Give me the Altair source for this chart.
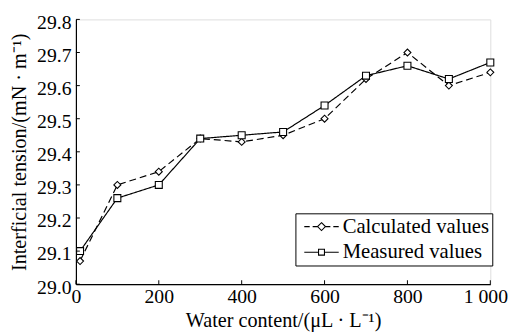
import altair as alt
import pandas as pd

water = [10, 100, 200, 300, 400, 500, 600, 700, 800, 900, 1000]
calculated = [29.07, 29.30, 29.34, 29.44, 29.43, 29.45, 29.50, 29.62, 29.70, 29.60, 29.64]
measured = [29.10, 29.26, 29.30, 29.44, 29.45, 29.46, 29.54, 29.63, 29.66, 29.62, 29.67]
series_names = ["Calculated values", "Measured values"]
x_ticks = [0, 200, 400, 600, 800, 1000]
y_ticks = [29.0, 29.1, 29.2, 29.3, 29.4, 29.5, 29.6, 29.7, 29.8]

rows = []
for i, w in enumerate(water):
    rows.append({"water": w, "value": calculated[i], "series": series_names[0]})
    rows.append({"water": w, "value": measured[i], "series": series_names[1]})
df = pd.DataFrame(rows)

FONT = "Liberation Serif"
W, H = 421, 269

xs = alt.Scale(domain=[0, 1000], nice=False)
ys = alt.Scale(domain=[29.0, 29.8], nice=False, zero=False)

common_axis = dict(ticks=False, grid=False, labelOverlap=False, labelFlush=False,
                   labelFont=FONT, labelFontSize=20, labelColor="black",
                   titleFont=FONT, titleFontSize=20.5, titleFontWeight="normal", titleColor="black",
                   domainColor="black", domainWidth=1.2)

x_axis = alt.Axis(values=x_ticks, labelPadding=3,
                  labelOffset={"condition": {"test": "datum.value == 1000", "value": -5}, "value": 0},
                  labelExpr="datum.value == 1000 ? '1 000' : datum.label",
                  title="Water content/(μL · L⁻¹)", titlePadding=4, **common_axis)
y_axis = alt.Axis(values=y_ticks, format=".1f", labelPadding=5, labelOffset=3,
                  title="Interficial tension/(mN · m⁻¹)", titlePadding=7, **common_axis)

def X(field="water"):
    return alt.X(f"{field}:Q", scale=xs, axis=x_axis)

def Y(field="value"):
    return alt.Y(f"{field}:Q", scale=ys, axis=y_axis)

lines = alt.Chart(df).mark_line(color="black", strokeWidth=1.2).encode(
    x=X(), y=Y(),
    detail="series:N",
    strokeDash=alt.StrokeDash("series:N", scale=alt.Scale(domain=series_names, range=[[7, 4], [1, 0]]), legend=None),
)

points = alt.Chart(df).mark_point(filled=False, fill="white", fillOpacity=1, color="black",
                                  strokeWidth=1.1, size=50, opacity=1).encode(
    x=X(), y=Y(),
    shape=alt.Shape("series:N", scale=alt.Scale(domain=series_names, range=["diamond", "square"]), legend=None),
)

calc_sym = "M-3.5,0H-2.4M-1.8,0H-0.8M0.8,0H1.8M2.4,0H3.5M0,-0.8L0.8,0L0,0.8L-0.8,0Z"
meas_sym = "M-3.5,0H-0.6M0.6,0H3.5M-0.6,-0.6H0.6V0.6H-0.6Z"

legend_layer = alt.Chart(df).mark_point(filled=False, color="black", opacity=1, size=100).encode(
    x=X(), y=Y(),
    shape=alt.Shape("series:N",
                    scale=alt.Scale(domain=series_names, range=[calc_sym, meas_sym]),
                    legend=alt.Legend(title=None, orient="none", legendX=223, legendY=197,
                                      strokeColor="black", fillColor="white", padding=3,
                                      labelFont=FONT, labelFontSize=21, labelColor="black",
                                      symbolStrokeColor="black", symbolFillColor="white",
                                      symbolStrokeWidth=1.1, symbolSize=100, symbolOffset=13,
                                      labelOffset=11, rowPadding=4, symbolOpacity=1)),
).transform_filter("datum.water < 0")

xt = pd.DataFrame({"water": x_ticks})
yt = pd.DataFrame({"value": y_ticks})
xticks = alt.Chart(xt).mark_rule(color="black", strokeWidth=1).encode(
    x=X(), y=alt.value(H), y2=alt.value(H - 4))
yticks = alt.Chart(yt).mark_rule(color="black", strokeWidth=1).encode(
    y=Y(), x=alt.value(0), x2=alt.value(4))

chart = alt.layer(lines, points, legend_layer, xticks, yticks).resolve_scale(
    shape="independent"
).properties(
    width=W, height=H,
    autosize=alt.AutoSizeParams(type="none"),
    padding={"left": 69, "top": 9, "right": 20, "bottom": 48},
).configure_view(stroke=None).configure(font=FONT)

chart.save("out.html", embed_options={"renderer": "svg", "actions": False})
